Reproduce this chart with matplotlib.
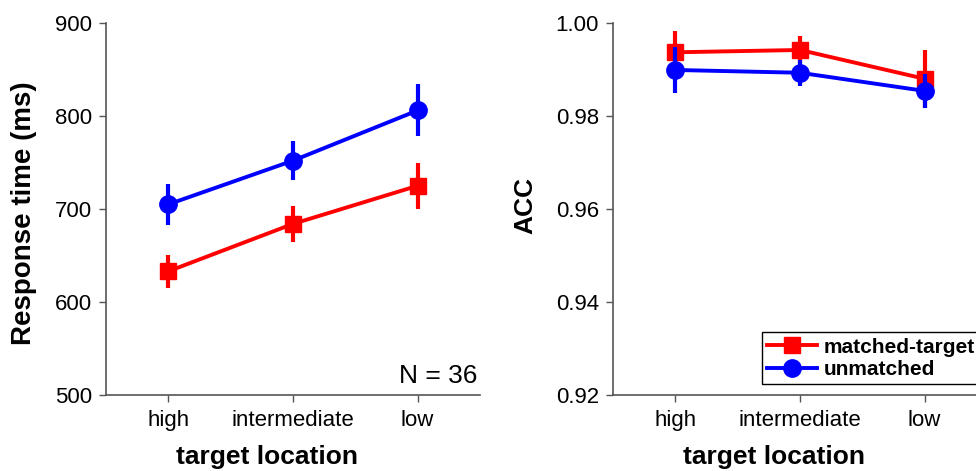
import matplotlib.pyplot as plt

plt.rcParams['font.family'] = ['Liberation Sans', 'DejaVu Sans']

locations = ['high', 'intermediate', 'low']
xpos = [1, 2, 3]

# response time (ms), mean and error
rt_matched = [633, 684, 725]
rt_matched_err = [18, 19, 25]
rt_unmatched = [705, 752, 806]
rt_unmatched_err = [22, 21, 28]

# accuracy
acc_matched = [0.9937, 0.9942, 0.9880]
acc_matched_err = [0.0045, 0.0030, 0.0062]
acc_unmatched = [0.9899, 0.9893, 0.9854]
acc_unmatched_err = [0.0050, 0.0028, 0.0037]

RED = '#ff0000'
BLUE = '#0000ff'
SPINE = '#555555'


def draw(ax, m, m_err, u, u_err):
    ax.errorbar(xpos, m, yerr=m_err, fmt='none', ecolor=RED, elinewidth=3, capsize=0)
    lm, = ax.plot(xpos, m, '-s', color=RED, lw=2.8, ms=11, label='matched-target')
    ax.errorbar(xpos, u, yerr=u_err, fmt='none', ecolor=BLUE, elinewidth=3, capsize=0)
    lu, = ax.plot(xpos, u, '-o', color=BLUE, lw=2.8, ms=12.5, label='unmatched')
    ax.set_xlim(0.5, 3.5)
    ax.set_xticks(xpos)
    ax.set_xticklabels(locations)
    for s in ['top', 'right']:
        ax.spines[s].set_visible(False)
    for s in ['left', 'bottom']:
        ax.spines[s].set_color(SPINE)
        ax.spines[s].set_linewidth(1.2)
    ax.tick_params(axis='both', labelsize=16, length=5, width=1, color=SPINE, direction='out')
    ax.tick_params(axis='x', pad=6)
    ax.tick_params(axis='y', pad=5)
    ax.set_xlabel('target location', fontsize=19, fontweight='bold')
    ax.xaxis.set_label_coords(0.43, -0.135)
    return lm, lu


fig = plt.figure(figsize=(9.76, 4.71), dpi=100)
ax1 = fig.add_axes([106 / 976, 76 / 471, 374 / 976, 372 / 471])
ax2 = fig.add_axes([613 / 976, 76 / 471, 374 / 976, 372 / 471])

draw(ax1, rt_matched, rt_matched_err, rt_unmatched, rt_unmatched_err)
ax1.set_ylim(500, 900)
ax1.set_yticks([500, 600, 700, 800, 900])
ax1.set_ylabel('Response time (ms)', fontsize=20, fontweight='bold')
ax1.yaxis.set_label_coords(-0.184, 0.49)
ax1.text(0.992, 0.032, 'N = 36', transform=ax1.transAxes, ha='right', va='baseline', fontsize=19)

lm, lu = draw(ax2, acc_matched, acc_matched_err, acc_unmatched, acc_unmatched_err)
ax2.set_ylim(0.92, 1.0)
ax2.set_yticks([0.92, 0.94, 0.96, 0.98, 1.00])
ax2.set_yticklabels(['0.92', '0.94', '0.96', '0.98', '1.00'])
ax2.set_ylabel('ACC', fontsize=19, fontweight='bold')
ax2.yaxis.set_label_coords(-0.203, 0.51)

leg = fig.legend(handles=[lm, lu], loc='lower left', bbox_to_anchor=(762 / 976, 87 / 471),
                 bbox_transform=fig.transFigure, borderaxespad=0, fancybox=False,
                 framealpha=1, edgecolor='black', prop={'size': 15, 'weight': 'bold'},
                 handlelength=2.4, handletextpad=0.3, labelspacing=0.15, borderpad=0.25,
                 numpoints=1)
leg.get_frame().set_linewidth(1)

fig.savefig('out.png', dpi=100)
